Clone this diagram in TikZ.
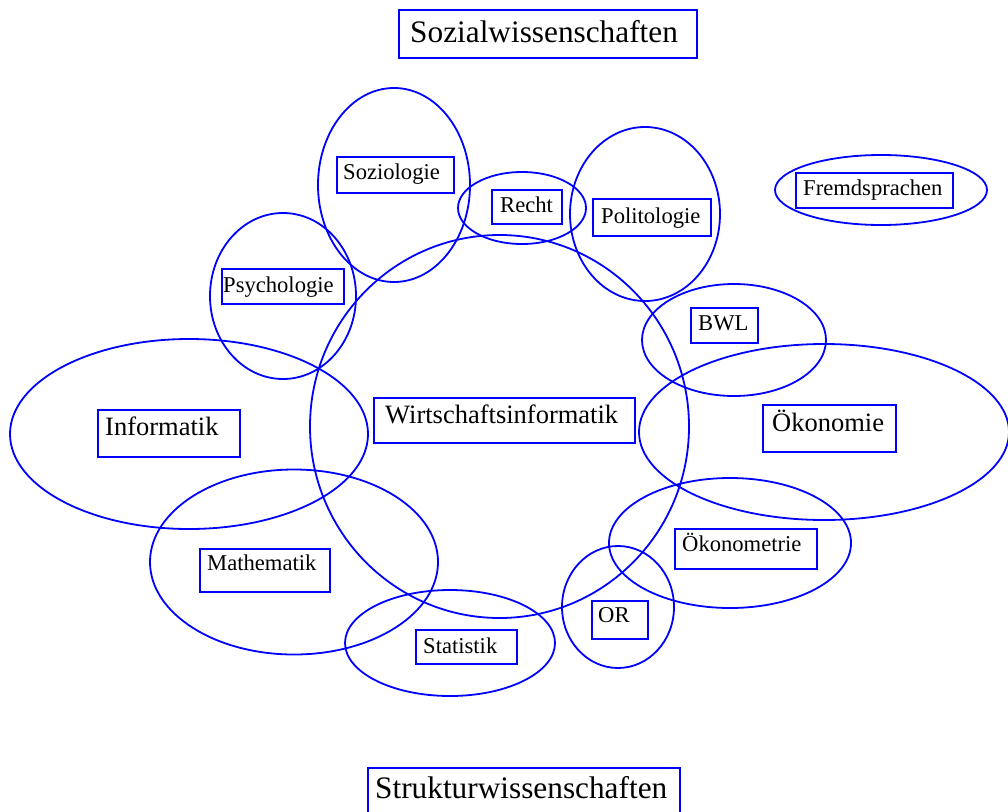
\documentclass[tikz,border=0pt]{standalone}
\usepackage{fontspec}
\setmainfont{Liberation Serif}
\tikzset{
  field/.style={draw=blue, line width=1.8pt},
  frame/.style={draw=blue, line width=1.8pt},
  lab/.style={anchor=base west, inner sep=0pt, text=black},
  bigtxt/.style={font=\fontsize{31.3}{36}\selectfont},
  midtxt/.style={font=\fontsize{26.5}{30}\selectfont},
  smalltxt/.style={font=\fontsize{22.6}{26}\selectfont}
}
\begin{document}
\begin{tikzpicture}[x=1pt,y=-1pt]
\useasboundingbox (0,0) rectangle (1008,811);
% ellipses
\draw[field] (394,185) ellipse [x radius=76, y radius=97];   % Soziologie
\draw[field] (522,208) ellipse [x radius=64, y radius=36];   % Recht
\draw[field] (645,214) ellipse [x radius=75, y radius=87];   % Politologie
\draw[field] (881,190) ellipse [x radius=106, y radius=35];  % Fremdsprachen
\draw[field] (283,296) ellipse [x radius=73, y radius=83];   % Psychologie
\draw[field] (734,340) ellipse [x radius=92, y radius=56];   % BWL
\draw[field] (189,434) ellipse [x radius=179, y radius=95];  % Informatik
\draw[field] (499.5,426.5) ellipse [x radius=189.5, y radius=191.5]; % WI
\draw[field] (824,432) ellipse [x radius=185, y radius=88];  % Oekonomie
\draw[field] (294,562) ellipse [x radius=144, y radius=92.5];% Mathematik
\draw[field] (730,543) ellipse [x radius=121, y radius=65];  % Oekonometrie
\draw[field] (618,607) ellipse [x radius=56, y radius=61];   % OR
\draw[field] (450,643) ellipse [x radius=105, y radius=53];  % Statistik
% boxes
\draw[frame] (399,10) rectangle (697,58);
\draw[frame] (368,768) rectangle (680,830);
\draw[frame] (337,157) rectangle (454,193);
\draw[frame] (492,190) rectangle (562,224);
\draw[frame] (593,199) rectangle (711,236);
\draw[frame] (796,173) rectangle (953,208);
\draw[frame] (222,269) rectangle (344,304);
\draw[frame] (691,308) rectangle (758,343);
\draw[frame] (98,410) rectangle (240,457);
\draw[frame] (374,398) rectangle (635,443);
\draw[frame] (763,405) rectangle (896,452);
\draw[frame] (200,549) rectangle (330,592);
\draw[frame] (675,529) rectangle (817,569);
\draw[frame] (592,601) rectangle (648,639);
\draw[frame] (416,630) rectangle (517,664);
% labels
\node[lab,bigtxt] (sw) at (410,42) {Sozialwissenschaften};
\node[lab,bigtxt] (stw) at (375,798) {Strukturwissenschaften};
\node[lab,smalltxt] (soz) at (343,179) {Soziologie};
\node[lab,smalltxt] (rec) at (500,212) {Recht};
\node[lab,smalltxt] (pol) at (601,223) {Politologie};
\node[lab,smalltxt] (fre) at (803,195) {Fremdsprachen};
\node[lab,smalltxt] (psy) at (223,292) {Psychologie};
\node[lab,smalltxt] (bwl) at (698,330) {BWL};
\node[lab,midtxt] (inf) at (105,435) {Informatik};
\node[lab,midtxt] (wi) at (385,423) {Wirtschaftsinformatik};
\node[lab,midtxt] (oek) at (772,431) {Ökonomie};
\node[lab,smalltxt] (mat) at (207,570) {Mathematik};
\node[lab,smalltxt] (oem) at (682,551) {Ökonometrie};
\node[lab,smalltxt] (or) at (598,622) {OR};
\node[lab,smalltxt] (sta) at (423,653) {Statistik};
\end{tikzpicture}
\end{document}
